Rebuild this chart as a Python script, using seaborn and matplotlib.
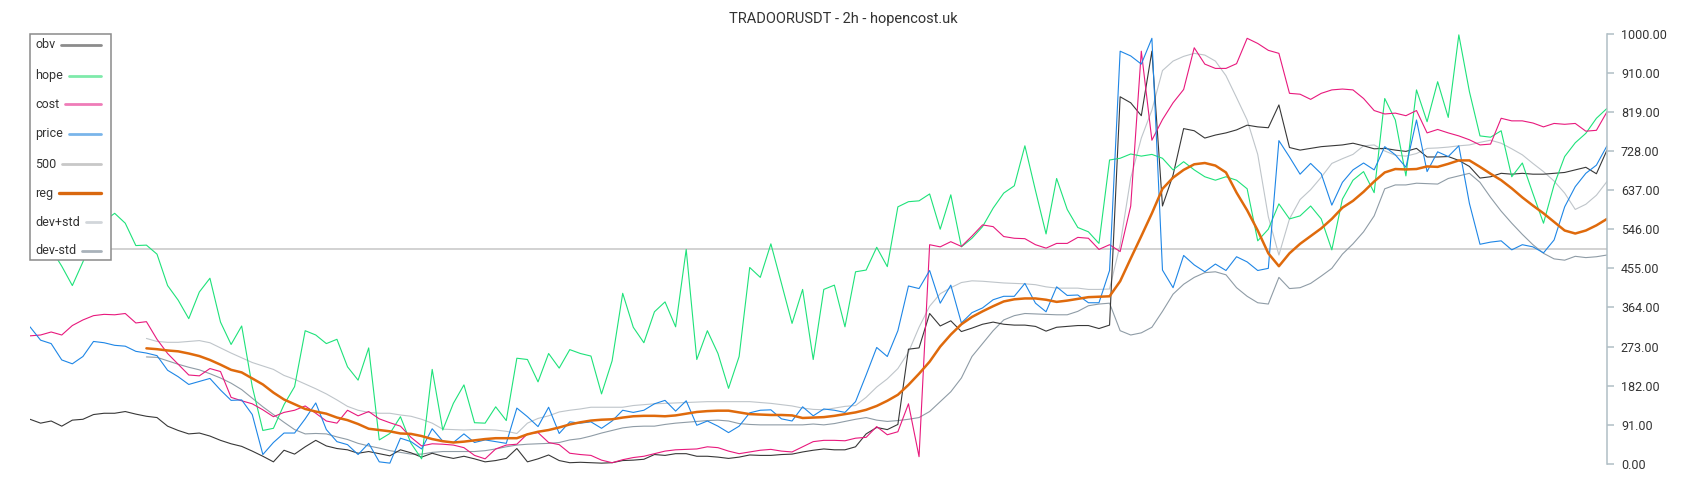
import numpy as np
import pandas as pd
import matplotlib
matplotlib.use("Agg")
import matplotlib.pyplot as plt
from matplotlib.lines import Line2D
from matplotlib.patches import Rectangle
import seaborn as sns

# values (one point per ~2 candles, 150 points)
obv = [104, 95, 100, 88, 102, 104, 115, 118, 118, 122,
       116, 111, 108, 88, 78, 70, 72, 65, 55, 47,
       41, 30, 18, 5, 32, 23, 40, 55, 42, 36,
       33, 25, 29, 24, 19, 33, 26, 16, 25, 18,
       13, 18, 12, 5, 8, 13, 36, 5, 12, 21,
       8, 3, 4, 3, 2, 3, 8, 9, 11, 22,
       20, 24, 24, 18, 18, 16, 13, 16, 21, 20,
       20, 22, 23, 28, 32, 35, 33, 33, 40, 70,
       85, 80, 92, 267, 270, 350, 321, 333, 308, 316,
       325, 330, 325, 323, 323, 320, 309, 318, 320, 322,
       322, 315, 323, 854, 840, 810, 960, 600, 672, 780,
       775, 758, 765, 770, 777, 788, 784, 782, 835, 736,
       730, 734, 738, 740, 742, 746, 740, 733, 734, 730,
       727, 734, 714, 714, 715, 706, 692, 665, 668, 676,
       674, 676, 674, 674, 676, 678, 684, 690, 675, 730]

hope = [540, 525, 500, 460, 415, 470, 530, 565, 583, 560,
        508, 509, 488, 415, 381, 338, 400, 432, 330, 278,
        321, 180, 78, 83, 138, 180, 310, 300, 280, 290,
        226, 195, 270, 56, 71, 110, 48, 12, 220, 79,
        141, 184, 96, 95, 133, 101, 246, 243, 191, 257,
        223, 266, 257, 251, 163, 240, 397, 318, 282, 354,
        377, 319, 499, 243, 310, 257, 176, 250, 457, 434,
        512, 420, 327, 406, 243, 406, 416, 319, 447, 451,
        504, 459, 598, 610, 612, 628, 546, 626, 505, 525,
        552, 595, 630, 647, 740, 636, 535, 664, 592, 550,
        540, 513, 707, 711, 721, 716, 720, 711, 684, 703,
        684, 668, 660, 668, 660, 640, 519, 546, 605, 570,
        577, 600, 570, 498, 616, 660, 680, 631, 850, 800,
        670, 870, 796, 889, 806, 998, 866, 763, 760, 775,
        668, 700, 629, 560, 649, 715, 747, 769, 804, 827]

cost = [298, 300, 307, 300, 322, 335, 345, 348, 347, 350,
        328, 331, 290, 257, 232, 207, 205, 222, 215, 155,
        147, 140, 126, 110, 120, 125, 135, 118, 100, 95,
        125, 112, 122, 105, 96, 88, 62, 42, 47, 46,
        44, 38, 20, 12, 35, 44, 46, 70, 73, 50,
        45, 25, 22, 20, 9, 3, 10, 15, 18, 24,
        30, 33, 34, 35, 40, 38, 30, 24, 28, 32,
        34, 30, 28, 40, 52, 55, 55, 54, 60, 62,
        87, 68, 75, 140, 17, 510, 505, 517, 506, 530,
        556, 552, 529, 525, 524, 510, 502, 513, 513, 527,
        525, 499, 510, 494, 600, 960, 753, 801, 840, 871,
        968, 930, 920, 920, 931, 990, 978, 962, 955, 862,
        860, 848, 862, 870, 872, 870, 850, 822, 814, 816,
        810, 822, 770, 778, 770, 763, 754, 742, 744, 804,
        798, 798, 793, 784, 792, 790, 792, 774, 776, 819]

price = [319, 288, 280, 242, 233, 250, 285, 282, 276, 274,
         262, 258, 252, 218, 203, 185, 192, 199, 172, 148,
         149, 115, 22, 50, 72, 72, 105, 142, 80, 52,
         45, 22, 48, 5, 2, 60, 52, 35, 82, 53,
         50, 70, 50, 56, 52, 48, 130, 110, 87, 132,
         71, 98, 95, 98, 83, 100, 125, 120, 125, 140,
         148, 123, 147, 90, 100, 88, 73, 88, 119, 125,
         126, 105, 100, 133, 112, 128, 125, 120, 145, 207,
         271, 250, 310, 414, 408, 450, 374, 416, 328, 352,
         363, 382, 390, 390, 420, 374, 354, 412, 392, 393,
         375, 375, 450, 960, 949, 930, 990, 451, 410, 485,
         463, 447, 465, 450, 482, 470, 450, 455, 752, 714,
         674, 699, 675, 602, 655, 684, 700, 684, 738, 719,
         690, 800, 680, 726, 715, 740, 606, 511, 516, 519,
         498, 510, 505, 491, 521, 598, 645, 676, 695, 740]

# regression and bands start after the look-back window
BAND_START = 11
reg = [269, 267, 264, 262, 257, 251, 242, 231, 219,
       213, 199, 185, 166, 150, 139, 128, 122, 117, 108,
       102, 93, 82, 79, 76, 71, 70, 65, 58, 53,
       50, 52, 55, 58, 60, 60, 60, 69, 75, 79,
       85, 92, 97, 101, 103, 104, 108, 111, 112, 112,
       111, 113, 117, 121, 123, 124, 124, 120, 116, 115,
       114, 114, 113, 107, 108, 109, 112, 116, 120, 126,
       135, 147, 161, 184, 210, 238, 273, 301, 325, 342,
       355, 367, 378, 383, 385, 385, 382, 377, 380, 384,
       388, 389, 390, 425, 478, 530, 583, 640, 666, 684,
       697, 700, 694, 678, 631, 590, 543, 490, 460, 490,
       512, 530, 548, 570, 596, 612, 633, 657, 678, 686,
       685, 686, 692, 691, 698, 706, 706, 691, 675, 660,
       641, 620, 601, 583, 563, 543, 536, 543, 555, 570]

dev_plus = [292, 285, 283, 283, 285, 287, 282, 270, 258,
            247, 236, 228, 220, 206, 197, 186, 175, 163, 149,
            134, 125, 120, 118, 118, 114, 111, 104, 95, 81,
            80, 79, 80, 80, 79, 76, 71, 95, 106, 112,
            121, 125, 128, 132, 132, 132, 132, 136, 138, 140,
            141, 142, 143, 144, 145, 145, 145, 145, 145, 143,
            141, 138, 135, 130, 127, 126, 130, 134, 136, 155,
            179, 198, 222, 260, 318, 367, 396, 410, 422, 426,
            425, 423, 421, 420, 419, 417, 412, 409, 409, 409,
            406, 406, 407, 510, 665, 758, 823, 915, 937, 948,
            955, 951, 937, 903, 852, 800, 720, 575, 486, 570,
            615, 638, 667, 699, 710, 720, 740, 742, 728, 718,
            716, 722, 734, 735, 737, 740, 742, 748, 753, 746,
            733, 719, 699, 680, 658, 630, 592, 604, 625, 657]

dev_minus = [249, 248, 240, 232, 225, 219, 210, 200, 188,
             173, 153, 133, 115, 97, 80, 70, 71, 70, 63,
             57, 48, 42, 37, 31, 27, 23, 23, 27, 29,
             29, 29, 29, 31, 35, 40, 44, 46, 47, 48,
             50, 56, 59, 65, 72, 78, 84, 87, 88, 88,
             92, 95, 97, 99, 101, 102, 100, 94, 92, 91,
             91, 91, 91, 91, 93, 91, 94, 99, 104, 108,
             102, 99, 101, 104, 108, 122, 145, 168, 200, 250,
             280, 310, 335, 345, 350, 349, 348, 347, 347, 355,
             368, 372, 374, 310, 300, 305, 318, 355, 395, 418,
             434, 445, 447, 440, 410, 390, 375, 372, 434, 408,
             410, 420, 437, 455, 488, 512, 540, 577, 640, 649,
             649, 653, 652, 651, 664, 670, 676, 655, 620, 588,
             560, 534, 510, 490, 477, 474, 483, 480, 482, 486]

LEVEL = 500
yticks = [0, 91, 182, 273, 364, 455, 546, 637, 728, 819, 910, 1000]
labels = ['obv', 'hope', 'cost', 'price', '500', 'reg', 'dev+std', 'dev-std']

line_colors = {'obv': '#383838', 'hope': '#1ee27a', 'cost': '#e8197d',
               'price': '#1e86e6', '500': '#c6c6c6', 'reg': '#df6a0c',
               'dev+std': '#bfc5ca', 'dev-std': '#8f9ca6'}
legend_colors = {'obv': '#8c8c8c', 'hope': '#7eeaaa', 'cost': '#ef7cb8',
                 'price': '#7ab5ea', '500': '#c8c8c8', 'reg': '#d9680f',
                 'dev+std': '#d2d6da', 'dev-std': '#a9b2ba'}

sns.set_theme(style="white")
plt.rcParams['font.family'] = ['Roboto', 'DejaVu Sans']

W, H = 1700, 500
fig = plt.figure(figsize=(W / 100, H / 100), dpi=100)
ax = fig.add_axes([30 / W, 36 / H, 1577 / W, 430 / H])

idx = np.arange(len(price))
idx_band = np.arange(BAND_START, len(price))

ax.axhline(LEVEL, color=line_colors['500'], lw=1.1, zorder=1)
sns.lineplot(x=idx_band, y=dev_plus, ax=ax, color=line_colors['dev+std'], lw=0.8, estimator=None)
sns.lineplot(x=idx_band, y=dev_minus, ax=ax, color=line_colors['dev-std'], lw=0.8, estimator=None)
sns.lineplot(x=idx, y=obv, ax=ax, color=line_colors['obv'], lw=0.8, estimator=None)
sns.lineplot(x=idx, y=hope, ax=ax, color=line_colors['hope'], lw=0.8, estimator=None)
sns.lineplot(x=idx, y=cost, ax=ax, color=line_colors['cost'], lw=0.8, estimator=None)
sns.lineplot(x=idx, y=price, ax=ax, color=line_colors['price'], lw=0.8, estimator=None)
sns.lineplot(x=idx_band, y=reg, ax=ax, color=line_colors['reg'], lw=1.8, estimator=None)

ax.set_xlim(0, len(price) - 1)
ax.set_ylim(0, 1000)
ax.set_xticks([])
ax.set_xlabel('')
ax.set_ylabel('')
ax.yaxis.tick_right()
ax.set_yticks(yticks)
ax.set_yticklabels([f'{v:.2f}' for v in yticks])
for s in ['left', 'top', 'bottom']:
    ax.spines[s].set_visible(False)
ax.spines['right'].set_color('#b0bec5')
ax.spines['right'].set_linewidth(1.1)
ax.tick_params(axis='y', direction='out', length=5, width=1.1, color='#b0bec5',
               pad=5, labelsize=9, labelcolor='#333333', right=True, left=False)

fig.text(843 / W, 1 - 19.5 / H, 'TRADOORUSDT - 2h - hopencost.uk',
         ha='center', va='center', fontsize=10.5, color='#333333')

# legend box, drawn by hand: labels left, samples stretched to the right edge
fig.add_artist(Rectangle((30 / W, 1 - 260 / H), 81 / W, 226 / H, transform=fig.transFigure,
                         facecolor='white', edgecolor='#8a8a8a', lw=1.1, zorder=10))
rows_y = [45, 76, 104, 134, 164, 193, 222, 251]
texts = []
for lab, y in zip(labels, rows_y):
    t = fig.text(35 / W, 1 - y / H, lab, ha='left', va='center', fontsize=9,
                 color='#333333', zorder=11)
    texts.append(t)
fig.canvas.draw()
renderer = fig.canvas.get_renderer()
for lab, y, t in zip(labels, rows_y, texts):
    ext = t.get_window_extent(renderer)
    x0 = (ext.x1 + 6) / W
    lw = 2.4 if lab == 'reg' else 2.0
    fig.add_artist(Line2D([x0, 101 / W], [1 - y / H, 1 - y / H], transform=fig.transFigure,
                          color=legend_colors[lab], lw=lw, zorder=11))

fig.savefig('out.png', dpi=100)
